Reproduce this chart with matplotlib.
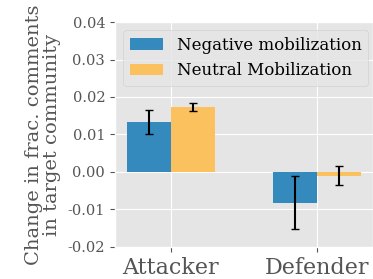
import matplotlib
matplotlib.use('Agg')
import matplotlib.pyplot as plt
import numpy as np

plt.style.use('ggplot')
plt.rcParams['font.family'] = 'DejaVu Serif'

groups = ['Attacker', 'Defender']
neg_vals = [0.0133, -0.0082]
neg_err = [0.0032, 0.0070]
neu_vals = [0.0173, -0.0010]
neu_err = [0.0010, 0.0025]

x = np.arange(len(groups))
w = 0.3

fig = plt.figure(figsize=(3.73, 2.79), dpi=100)
ax = fig.add_axes([0.308, 0.115, 0.692, 0.806])

ax.bar(x - w / 2, neg_vals, w, color='#348ABD', label='Negative mobilization')
ax.bar(x + w / 2, neu_vals, w, color='#FBC15E', label='Neutral Mobilization')
ax.errorbar(x - w / 2, neg_vals, yerr=neg_err, fmt='none', ecolor='black', capsize=3, elinewidth=1.5)
ax.errorbar(x + w / 2, neu_vals, yerr=neu_err, fmt='none', ecolor='black', capsize=3, elinewidth=1.5)

ticks = np.arange(-0.02, 0.041, 0.01)
ax.set_ylim(-0.02, 0.04)
ax.set_yticks(ticks)
ax.set_yticklabels(['%.2f' % v for v in ticks])
ax.set_xticks(x)
ax.set_xticklabels(groups, fontsize=16)
ax.tick_params(axis='y', labelsize=10.5)
ax.set_ylabel('Change in frac. comments\nin target community', fontsize=14, labelpad=5, linespacing=0.95)
ax.legend(loc='upper left', fontsize=12)

fig.savefig('out.png', dpi=100)
